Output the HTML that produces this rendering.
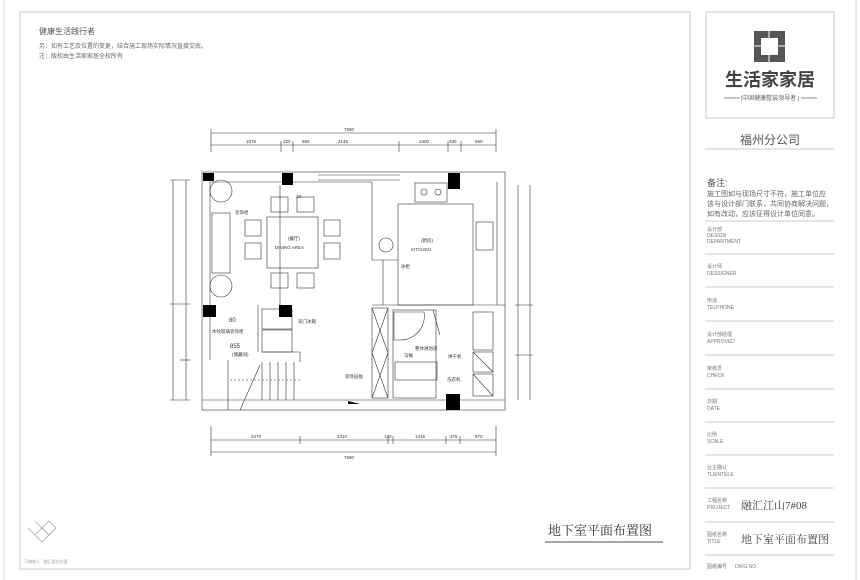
<!DOCTYPE html>
<html><head><meta charset="utf-8"><style>
html,body{margin:0;padding:0;background:#fff;}
body{width:860px;height:580px;position:relative;overflow:hidden;font-family:"Liberation Sans","Noto Sans CJK SC",sans-serif;color:#555;}
.a{position:absolute;white-space:nowrap;}
</style></head><body>
<svg width="860" height="580" style="position:absolute;left:0;top:0" xmlns="http://www.w3.org/2000/svg" font-family="Liberation Sans, Noto Sans CJK SC, sans-serif">
<!-- frames -->
<line x1="4" y1="0" x2="4" y2="580" stroke="#ddd"/>
<rect x="20" y="12" width="670" height="557" fill="none" stroke="#ccc"/>
<line x1="856" y1="0" x2="856" y2="580" stroke="#ccc"/>
<rect x="706" y="12" width="128" height="106" fill="none" stroke="#ccc"/>
<!-- logo -->
<rect x="754" y="31" width="31" height="31" fill="#555"/>
<rect x="761" y="38" width="17" height="17" fill="#fff"/>
<line x1="754" y1="46" x2="785" y2="46" stroke="#fff" stroke-width="1"/>
<line x1="769" y1="31" x2="769" y2="62" stroke="#fff" stroke-width="1"/>
<text x="770" y="86" font-size="18" font-weight="bold" fill="#444" text-anchor="middle">生活家家居</text>
<line x1="724" y1="98" x2="740" y2="98" stroke="#888"/><line x1="801" y1="98" x2="817" y2="98" stroke="#888"/>
<text x="770" y="100" font-size="6" fill="#666" text-anchor="middle">|中国健康整装领导者 |</text>
<text x="770" y="144" font-size="12" fill="#555" text-anchor="middle">福州分公司</text>
<line x1="705" y1="149" x2="834" y2="149" stroke="#ccc"/>
<text x="707" y="186" font-size="9" fill="#555">备注:</text>
<text x="707" y="196" font-size="7" fill="#666">施工图如与现场尺寸不符，施工单位应</text>
<text x="707" y="206" font-size="7" fill="#666">该与设计部门联系，共同协商解决问题，</text>
<text x="707" y="216" font-size="7" fill="#666">如有改动，应该征得设计单位同意。</text>
<g stroke="#ccc"><line x1="705" y1="221" x2="834" y2="221"/><line x1="705" y1="254" x2="834" y2="254"/><line x1="705" y1="287" x2="834" y2="287"/><line x1="705" y1="321" x2="834" y2="321"/><line x1="705" y1="355" x2="834" y2="355"/><line x1="705" y1="389" x2="834" y2="389"/><line x1="705" y1="422" x2="834" y2="422"/><line x1="705" y1="455" x2="834" y2="455"/><line x1="705" y1="488" x2="834" y2="488"/><line x1="705" y1="522" x2="834" y2="522"/><line x1="705" y1="555" x2="834" y2="555"/></g>
<g font-size="5" fill="#777">
<text x="707" y="231">设计部</text><text x="707" y="237">DESIGN</text><text x="707" y="243">DEPARTMENT</text>
<text x="707" y="268">设计师</text><text x="707" y="275">DESSIGNER</text>
<text x="707" y="302">电话</text><text x="707" y="309">TELPHONE</text>
<text x="707" y="336">设计部经理</text><text x="707" y="343">APPROVED</text>
<text x="707" y="370">审核员</text><text x="707" y="377">CHECK</text>
<text x="707" y="403">日期</text><text x="707" y="410">DATE</text>
<text x="707" y="436">比例</text><text x="707" y="443">SCALE</text>
<text x="707" y="469">业主确认</text><text x="707" y="476">TLIENTELE</text>
<text x="707" y="502">工程名称</text><text x="707" y="509">PROJECT</text>
<text x="707" y="536">图纸名称</text><text x="707" y="543">TITLE</text>
<text x="707" y="568">图纸编号</text><text x="735" y="568">DWG.NO</text>
</g>
<text x="741" y="509" font-size="11" fill="#444" font-family="Liberation Serif, Noto Serif CJK SC, serif">融汇江山7#08</text>
<text x="741" y="543" font-size="11" fill="#444" font-family="Liberation Serif, Noto Serif CJK SC, serif">地下室平面布置图</text>
<!-- header text -->
<text x="39" y="34" font-size="8" fill="#555">健康生活践行者</text>
<text x="39" y="48" font-size="6" fill="#666">另：如有工艺及位置的变更，结合施工现场实际情况直接交底。</text>
<text x="39" y="58" font-size="6" fill="#666">注：版权由生活家家居全权所有</text>
<!-- title bottom -->
<text x="548" y="535" font-size="13" fill="#333" font-family="Liberation Serif, Noto Serif CJK SC, serif">地下室平面布置图</text>
<line x1="545" y1="542" x2="663" y2="542" stroke="#888" stroke-width="1.5"/>
<g fill="none" stroke="#aaa" stroke-width="0.8">
<path d="M42 528 l7 -7 l7 7 l-7 7z"/><path d="M42 528 l-7 7 l7 7 l7 -7z"/><path d="M42 528 l-7 -7"/>
<path d="M35 535 l-7 -7 M49 535 l7 -7"/>
</g>
<text x="24" y="563" font-size="4" fill="#999">万物和人 · 融汇居住价值</text>
<!-- PLAN -->
<g stroke="#333" stroke-width="0.6" fill="none">
<!-- dimension lines -->
<line x1="211" y1="133" x2="496" y2="133"/><line x1="211" y1="145" x2="496" y2="145"/>
<line x1="211" y1="129" x2="211" y2="152"/><line x1="496" y1="129" x2="496" y2="152"/>
<line x1="281" y1="141" x2="281" y2="152"/><line x1="293" y1="141" x2="293" y2="152"/><line x1="399" y1="141" x2="399" y2="152"/><line x1="448" y1="141" x2="448" y2="152"/><line x1="461" y1="141" x2="461" y2="152"/>
<line x1="211" y1="440" x2="496" y2="440"/><line x1="211" y1="452" x2="496" y2="452"/>
<line x1="211" y1="426" x2="211" y2="456"/><line x1="496" y1="426" x2="496" y2="456"/>
<line x1="300" y1="436" x2="300" y2="444"/><line x1="388" y1="436" x2="388" y2="444"/><line x1="393" y1="436" x2="393" y2="444"/><line x1="446" y1="436" x2="446" y2="444"/><line x1="460" y1="436" x2="460" y2="444"/>
<line x1="173" y1="180" x2="173" y2="400"/><line x1="186" y1="180" x2="186" y2="400"/>
<line x1="170" y1="180" x2="190" y2="180"/><line x1="170" y1="304" x2="190" y2="304"/><line x1="180" y1="360" x2="190" y2="360"/><line x1="170" y1="400" x2="190" y2="400"/>
<line x1="530" y1="185" x2="530" y2="400"/><line x1="518" y1="185" x2="518" y2="400"/>
<line x1="515" y1="305" x2="533" y2="305"/><line x1="515" y1="355" x2="533" y2="355"/>
<!-- walls -->
<rect x="202" y="172" width="303" height="238"/>
<line x1="210" y1="182" x2="210" y2="360"/>
<line x1="210" y1="182" x2="372" y2="182"/>
<line x1="318" y1="175" x2="400" y2="175"/><line x1="318" y1="180" x2="400" y2="180"/>
<line x1="202" y1="400" x2="505" y2="400"/>
<line x1="497" y1="182" x2="497" y2="305"/>
<line x1="372" y1="182" x2="372" y2="260"/><line x1="372" y1="260" x2="398" y2="260"/>
<!-- dining -->
<rect x="267" y="217" width="51" height="51"/>
<rect x="245" y="220" width="16" height="16"/><rect x="245" y="243" width="16" height="16"/>
<rect x="324" y="220" width="16" height="16"/><rect x="324" y="243" width="16" height="16"/>
<rect x="271" y="197" width="17" height="15"/><rect x="297" y="197" width="17" height="15"/>
<rect x="271" y="273" width="17" height="15"/><rect x="297" y="273" width="17" height="15"/>
<line x1="280" y1="185" x2="280" y2="305"/>
<rect x="212" y="213" width="18" height="60"/>
<circle cx="221" cy="191" r="11"/><circle cx="221" cy="286" r="11"/>
<!-- storage / stairs -->
<rect x="262" y="309" width="30" height="20"/><rect x="262" y="330" width="30" height="22"/>
<line x1="258" y1="305" x2="258" y2="352"/><line x1="262" y1="352" x2="300" y2="352"/><line x1="300" y1="352" x2="300" y2="362"/>
<line x1="228" y1="360" x2="228" y2="410"/>
<line x1="262" y1="362" x2="262" y2="400"/><line x1="270" y1="362" x2="270" y2="400"/><line x1="278" y1="362" x2="278" y2="400"/><line x1="286" y1="362" x2="286" y2="400"/><line x1="294" y1="362" x2="294" y2="400"/>
<line x1="240" y1="410" x2="260" y2="365"/>
<line x1="230" y1="380" x2="300" y2="380" stroke-dasharray="2,2"/>
<!-- kitchen -->
<rect x="398" y="204" width="75" height="101"/>
<rect x="415" y="183" width="32" height="19"/>
<circle cx="424" cy="192" r="3"/><circle cx="438" cy="192" r="3"/>
<rect x="476" y="222" width="17" height="28"/>
<circle cx="386" cy="245" r="7"/>
<line x1="383" y1="260" x2="383" y2="305"/>
<!-- bath -->
<line x1="372" y1="305" x2="505" y2="305"/>
<rect x="372" y="308" width="16" height="90"/>
<line x1="372" y1="308" x2="388" y2="353"/><line x1="388" y1="308" x2="372" y2="353"/>
<line x1="372" y1="353" x2="388" y2="398"/><line x1="388" y1="353" x2="372" y2="398"/>
<rect x="393" y="310" width="43" height="88"/>
<path d="M394 312 h30 a24 24 0 0 1 -24 28 h-6z"/>
<rect x="395" y="362" width="42" height="18"/>
<rect x="473" y="312" width="20" height="38"/>
<rect x="473" y="352" width="20" height="20"/><rect x="473" y="374" width="20" height="22"/>
<line x1="473" y1="352" x2="493" y2="372"/><line x1="473" y1="374" x2="493" y2="396"/>
<line x1="433" y1="310" x2="440" y2="335"/>
</g>
<!-- pillars -->
<g fill="#000">
<rect x="203" y="173" width="11" height="8"/><rect x="282" y="173" width="11" height="12"/><rect x="448" y="173" width="12" height="16"/>
<rect x="203" y="305" width="13" height="12"/><rect x="279" y="305" width="13" height="12"/><rect x="446" y="394" width="14" height="16"/>
<path d="M348 401 l12 3 h-12z"/>
</g>
<!-- plan labels -->
<g font-size="4.5" fill="#333">
<text x="349" y="131" text-anchor="middle">7590</text><text x="349" y="459" text-anchor="middle">7590</text>
<text x="246" y="143">1875</text><text x="283" y="143">320</text><text x="302" y="143">665</text><text x="338" y="143">2145</text><text x="419" y="143">1300</text><text x="449" y="143">330</text><text x="475" y="143">960</text>
<text x="251" y="438">2370</text><text x="337" y="438">2310</text><text x="384" y="438">130</text><text x="415" y="438">1415</text><text x="450" y="438">375</text><text x="475" y="438">870</text>
<text x="235" y="214">装饰柜</text><text x="296" y="198">10</text>
<text x="288" y="240">(餐厅)</text><text x="275" y="249">DINING AREA</text>
<text x="421" y="242">(厨房)</text><text x="411" y="251">KITCHEN</text>
<text x="401" y="268">冰柜</text>
<text x="298" y="323">双门冰箱</text>
<text x="229" y="322" font-size="6">80</text>
<text x="212" y="333">木纹玻璃装饰柜</text>
<text x="230" y="348" font-size="6">855</text>
<text x="232" y="356">(储藏间)</text>
<text x="345" y="378">装饰层板</text>
<text x="415" y="350">整体淋浴房</text><text x="404" y="357">马桶</text>
<text x="448" y="358">烘干机</text><text x="447" y="381">洗衣机</text>
</g>
</svg>
</body></html>
